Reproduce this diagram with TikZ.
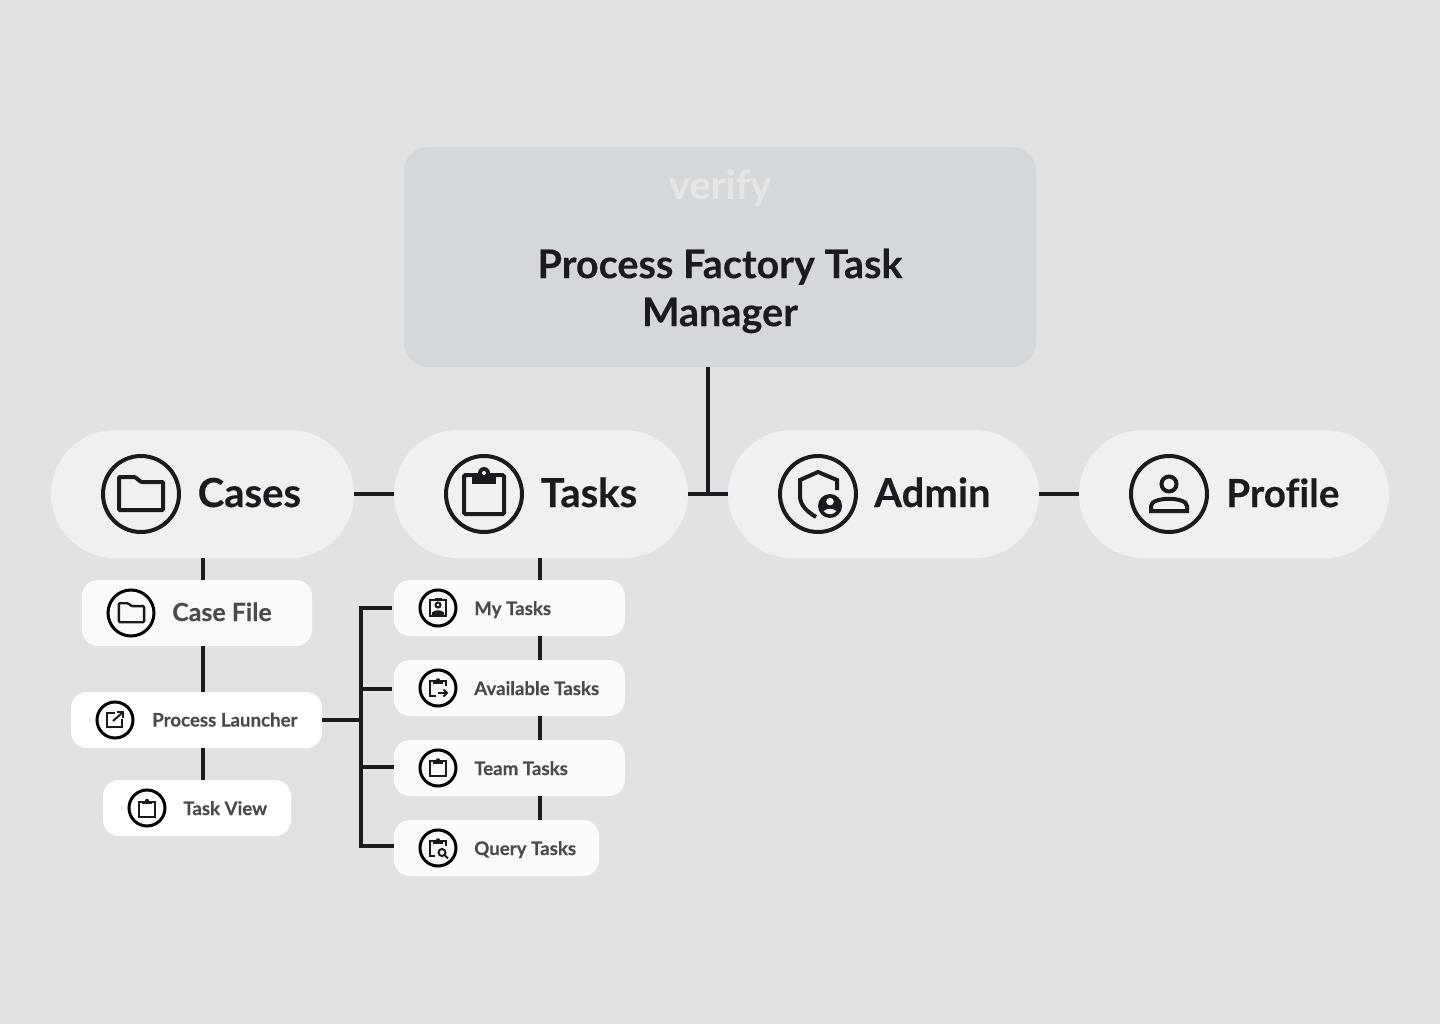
\documentclass[tikz,border=0pt]{standalone}
\usepackage{fontspec}
\setmainfont{Lato}[Ligatures=NoCommon, BoldFeatures={FakeBold=0.25}]
\definecolor{bgcol}{HTML}{E1E2E4}
\definecolor{headcol}{HTML}{D5D8DB}
\definecolor{pillcol}{HTML}{F0F0F0}
\definecolor{softcol}{HTML}{FAFAFA}
\definecolor{inkcol}{HTML}{1B1B1F}
\definecolor{greycol}{HTML}{4A4A4E}
\definecolor{markcol}{HTML}{E4E6E8}
\newcommand{\px}{0.75pt}
\newcommand{\clipband}{
\fill (-5,-7) rectangle (5,-4.5);
\fill (0,-7.5) circle (2.2);
}
\tikzset{
pill/.style={fill=pillcol, rounded corners=64*\px, minimum height=128*\px, inner sep=0pt},
subbox/.style={fill=softcol, rounded corners=16*\px, inner sep=0pt},
bigtext/.style={anchor=base west, inner sep=0pt, text=inkcol, font=\fontsize{30}{36}\selectfont\bfseries},
subtext/.style={anchor=base west, inner sep=0pt, text=greycol, font=\fontsize{14}{16}\selectfont\bfseries},
conn/.style={draw=inkcol, line width=3pt},
bigring/.style={draw=inkcol, line width=3pt, circle, minimum size=76*\px, inner sep=0pt},
subring/.style={draw=black, line width=2.25pt, circle, minimum size=36*\px, inner sep=0pt},
bigicon/.style={scale=2, line width=3pt, draw=inkcol, fill=inkcol, color=inkcol},
subicon/.style={line width=1.5pt, color=inkcol},
folderpic/.pic={
\draw[rounded corners=0.8] (-11,-8.5) -- (-3,-8.5) -- (0,-6) -- (11,-6) -- (11,8) -- (-11,8) -- cycle;
},
clippic/.pic={
\draw[rounded corners=1] (-10,-9.5) rectangle (10,10);
\fill (-6,-10) rectangle (6,-5);
\fill (0,-10.5) circle (3);
\fill[pillcol] (0,-10.5) circle (1);
},
smallclippic/.pic={
\draw (-8,-7) rectangle (8,8);
\clipband
},
shieldpic/.pic={
\draw (9.5,-2) -- (9.5,-7) -- (0,-11) -- (-9,-7) -- (-9,1) .. controls (-9,6) and (-5,9) .. (-1,11.5);
\fill (6,6) circle (6);
\fill[pillcol] (6,3.8) circle (1.9);
\fill[pillcol] (2.8,8.6) .. controls (4,7) and (8,7) .. (9.2,8.6) .. controls (7.5,10.6) and (4.5,10.6) .. cycle;
},
personpic/.pic={
\draw (0,-5) circle (3.75);
\draw (-9,8.5) -- (-9,6) .. controls (-9,3.5) and (-4,2.4) .. (0,2.4) .. controls (4,2.4) and (9,3.5) .. (9,6) -- (9,8.5) -- cycle;
},
linkpic/.pic={
\draw (0,-7) -- (-8,-7) -- (-8,7) -- (7,7) -- (7,-1);
\draw (-2,1) -- (7.5,-7.5);
\draw (2,-8) -- (8,-8) -- (8,-2);
},
mypic/.pic={
\draw (-8,-7) rectangle (8,9);
\fill (-3.5,-9) rectangle (3.5,-6);
\draw (0,-2) circle (2.5);
\fill (-6,8) -- (-6,5.5) .. controls (-3,2.5) and (3,2.5) .. (6,5.5) -- (6,8) -- cycle;
},
availpic/.pic={
\draw (8,-2) -- (8,-7) -- (-8,-7) -- (-8,8) -- (-2,8);
\clipband
\draw (0,5) -- (9,5);
\draw (5.5,1.5) -- (9,5) -- (5.5,8.5);
},
querypic/.pic={
\draw (8,-2) -- (8,-7) -- (-8,-7) -- (-8,8) -- (-3,8);
\clipband
\draw (4,4.5) circle (3.5);
\draw (6.5,7) -- (10,10.5);
},
}

\begin{document}
\begin{tikzpicture}[x=\px, y=-\px]

\fill[bgcol] (0,0) rectangle (1440,1024);

%main box
\node[fill=headcol, rounded corners=24*\px, minimum width=632*\px, minimum height=220*\px, inner sep=0pt] at (720, 257)(manager){};
\node[text=markcol, anchor=base, inner sep=0pt, font=\fontsize{30}{36}\selectfont\bfseries] at (720, 199)(verify){verify};
\node[text=inkcol, align=center, inner sep=0pt, font=\fontsize{29.7}{36}\selectfont\bfseries] at (720, 291)(title){Process Factory Task\\Manager};

%top row
\node[pill, minimum width=303*\px] at (202.5, 494)(cases){};
\node[pill, minimum width=294*\px] at (541, 494)(tasks){};
\node[pill, minimum width=311*\px] at (883.5, 494)(admin){};
\node[pill, minimum width=310*\px] at (1234, 494)(profile){};

\node[bigring] at (141, 494)(casesring){};
\node[bigring] at (484, 494)(tasksring){};
\node[bigring] at (818, 494)(adminring){};
\node[bigring] at (1169, 494)(profilering){};

\node[bigtext] at (197.5, 507)(caseslet){Cases};
\node[bigtext] at (540.5, 507)(taskslet){Tasks};
\node[bigtext] at (874, 507)(adminlet){Admin};
\node[bigtext, font=\fontsize{29}{36}\selectfont\bfseries] at (1226, 507)(profilelet){Profile};

\pic[bigicon] at (141, 494) {folderpic};
\pic[bigicon] at (484, 494) {clippic};
\pic[bigicon] at (818, 494) {shieldpic};
\pic[bigicon] at (1169, 494) {personpic};

%cases column
\node[subbox, minimum width=230*\px, minimum height=66*\px] at (197, 613)(casefile){};
\node[subbox, fill=white, minimum width=251*\px, minimum height=56*\px] at (196.5, 720)(launcher){};
\node[subbox, fill=white, minimum width=188*\px, minimum height=56*\px] at (197, 808)(taskview){};

\node[subring, minimum size=46*\px] at (131, 613)(casefilering){};
\node[subring] at (115, 720)(launcherring){};
\node[subring] at (147, 808)(taskviewring){};

\node[subtext, font=\fontsize{18.7}{22}\selectfont\bfseries] at (172, 621)(casefilelet){Case File};
\node[subtext] at (152, 726.5)(launcherlet){Process Launcher};
\node[subtext] at (183, 815)(taskviewlet){Task View};

\pic[subicon, scale=1.15, line width=1.8pt] at (131.5, 613) {folderpic};
\pic[subicon] at (115, 720) {linkpic};
\pic[subicon] at (147, 808.5) {smallclippic};

%tasks column
\node[subbox, minimum width=231*\px, minimum height=56*\px] at (509.5, 608)(mytasks){};
\node[subbox, minimum width=231*\px, minimum height=56*\px] at (509.5, 688)(avail){};
\node[subbox, minimum width=231*\px, minimum height=56*\px] at (509.5, 768)(team){};
\node[subbox, minimum width=205*\px, minimum height=56*\px] at (496.5, 848)(query){};

\node[subring] at (438, 608)(mytasksring){};
\node[subring] at (438, 688)(availring){};
\node[subring] at (438, 768)(teamring){};
\node[subring] at (438, 848)(queryring){};

\node[subtext] at (474, 615)(mytaskslet){My Tasks};
\node[subtext] at (474, 695)(availlet){Available Tasks};
\node[subtext] at (474, 775)(teamlet){Team Tasks};
\node[subtext] at (474, 855)(querylet){Query Tasks};

\pic[subicon] at (438, 607) {mypic};
\pic[subicon] at (438, 688) {availpic};
\pic[subicon] at (438, 768) {smallclippic};
\pic[subicon] at (438, 848) {querypic};

%junctions
\coordinate (join) at (708, 494);
\coordinate (casedrop) at (203, 558);
\coordinate (taskdrop) at (540, 558);
\coordinate (bustop) at (361, 608);
\coordinate (busavail) at (361, 689);
\coordinate (busmid) at (361, 720);
\coordinate (busteam) at (361, 766.5);
\coordinate (busend) at (361, 846);

%branches
\draw[conn] (join |- manager.south) -- (join);
\draw[conn] (cases.east) -- (tasks.west);
\draw[conn] (tasks.east) -- (admin.west);
\draw[conn] (admin.east) -- (profile.west);
\draw[conn] (casedrop) -- (casedrop |- casefile.north);
\draw[conn] (casedrop |- casefile.south) -- (casedrop |- launcher.north);
\draw[conn] (casedrop |- launcher.south) -- (casedrop |- taskview.north);
\draw[conn] (taskdrop) -- (taskdrop |- mytasks.north);
\draw[conn] (taskdrop |- mytasks.south) -- (taskdrop |- avail.north);
\draw[conn] (taskdrop |- avail.south) -- (taskdrop |- team.north);
\draw[conn] (taskdrop |- team.south) -- (taskdrop |- query.north);
\draw[conn, line cap=rect] (bustop) -- (busend);
\draw[conn] (launcher.east) -- (busmid);
\draw[conn, shorten >=2*\px] (bustop) -- (mytasks.west |- bustop);
\draw[conn, shorten >=2*\px] (busavail) -- (avail.west |- busavail);
\draw[conn] (busteam) -- (team.west |- busteam);
\draw[conn] (busend) -- (query.west |- busend);

\end{tikzpicture}
\end{document}
